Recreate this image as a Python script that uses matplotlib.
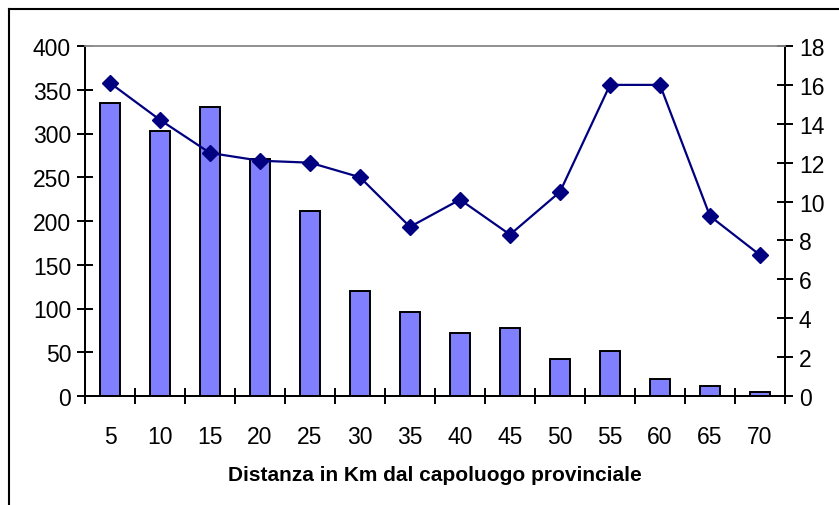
import matplotlib
matplotlib.use("Agg")
import matplotlib.pyplot as plt
import numpy as np
from matplotlib.lines import Line2D

# distances (km) and values
distances = [5, 10, 15, 20, 25, 30, 35, 40, 45, 50, 55, 60, 65, 70]
bar_values = [335, 303, 330, 271, 212, 120, 96, 72, 78, 42, 51, 19, 12, 5]
line_values = [16.1, 14.2, 12.5, 12.1, 12.0, 11.25, 8.7, 10.1, 8.3, 10.5, 16.0, 16.0, 9.25, 7.25]
left_ticks = list(range(0, 401, 50))
right_ticks = list(range(0, 19, 2))
xlabel = "Distanza in Km dal capoluogo provinciale"

plt.rcParams['font.family'] = ['Liberation Sans', 'DejaVu Sans']

fig = plt.figure(figsize=(8.39, 5.06), dpi=100)
ax = fig.add_axes([85 / 839, 1 - 397 / 506, 700 / 839, 350 / 506])
ax2 = ax.twinx()

x = np.arange(len(distances))
ax.bar(x, bar_values, width=0.4, color='#8080FF', edgecolor='black', linewidth=1.4, zorder=2)
ax.set_xlim(-0.5, len(distances) - 0.5)
ax.set_ylim(0, 400)
ax.set_yticks(left_ticks)

# category boundaries get the tick marks, centres get the labels
ax.set_xticks(np.arange(len(distances) + 1) - 0.5)
ax.set_xticklabels([])
ax.set_xticks(x, minor=True)
ax.set_xticklabels([str(d) for d in distances], minor=True)
ax.tick_params(axis='x', which='major', direction='inout', length=12, width=1.4)
ax.tick_params(axis='x', which='minor', length=0, pad=21, labelsize=16.5)
ax.tick_params(axis='y', direction='inout', length=12, width=1.4, labelsize=16.5, pad=4)
ax.set_xlabel(xlabel, fontsize=15, fontweight='bold', labelpad=12)

ax2.plot(x, line_values, color='#000080', linewidth=1.6, marker='D', markersize=8.5, zorder=3)
ax2.set_ylim(0, 18)
ax2.set_yticks(right_ticks)
ax2.tick_params(axis='y', direction='inout', length=12, width=1.4, labelsize=16.5, pad=4)

for a in (ax, ax2):
    a.spines['top'].set_color('#909090')
    a.spines['top'].set_linewidth(1.2)
    a.spines['left'].set_linewidth(1.4)
    a.spines['right'].set_linewidth(1.4)
    a.spines['bottom'].set_linewidth(1.4)

# outer chart-area border (left and top only visible)
fig.add_artist(Line2D([9 / 839, 9 / 839], [0, 1 - 10 / 506], transform=fig.transFigure, color='black', linewidth=1.5))
fig.add_artist(Line2D([9 / 839, 1], [1 - 10 / 506, 1 - 10 / 506], transform=fig.transFigure, color='black', linewidth=1.5))

fig.savefig("out.png", dpi=100)
